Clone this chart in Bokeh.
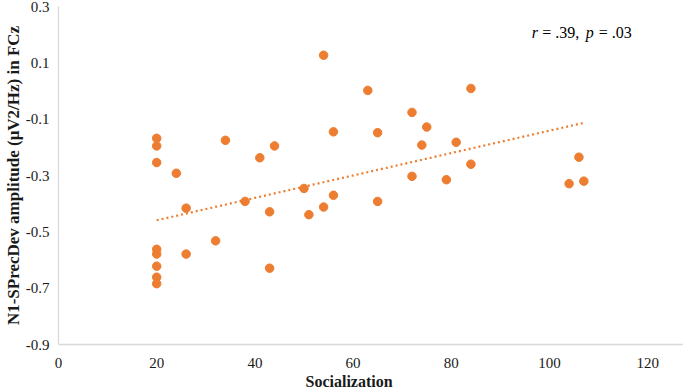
import numpy as np
from bokeh.plotting import figure
from bokeh.models import Range1d, FixedTicker, Label, Title
from bokeh.embed import file_html
from bokeh.resources import INLINE

# Data
socialization = [20, 20, 20, 24, 34, 41, 44, 56, 26, 38, 43, 50, 56, 51, 54,
                 20, 20, 20, 20, 20, 26, 32, 43, 54, 63, 84, 72, 75, 65, 74,
                 81, 84, 72, 79, 65, 106, 104, 107]
n1_amplitude = [-0.168, -0.195, -0.254, -0.292, -0.175, -0.237, -0.195, -0.145,
                -0.416, -0.392, -0.429, -0.346, -0.370, -0.439, -0.412,
                -0.562, -0.579, -0.622, -0.661, -0.684, -0.579, -0.532, -0.629,
                0.127, 0.002, 0.009, -0.076, -0.128, -0.148, -0.192, -0.182,
                -0.260, -0.303, -0.315, -0.392, -0.235, -0.329, -0.320]
trend_x = [20, 107]
trend_y = [-0.459, -0.113]
x_ticks = [0, 20, 40, 60, 80, 100, 120]
y_ticks = [-0.9, -0.7, -0.5, -0.3, -0.1, 0.1, 0.3]
y_tick_labels = ["-0.9", "-0.7", "-0.5", "-0.3", "-0.1", "0.1", "0.3"]
x_title = "Socialization"
y_title = "N1-SPrecDev amplitude (μV2/Hz) in FCz"
stat_parts = [("r", "italic"), ("= .39,", "normal"), ("p", "italic"), ("= .03", "normal")]

ORANGE = "#ED7D31"
FONT = "Times New Roman"

p = figure(width=683, height=391, output_backend="svg", toolbar_location=None,
           x_range=Range1d(0, 127.3), y_range=Range1d(-0.9, 0.3),
           min_border_left=54, min_border_right=0, min_border_top=6,
           min_border_bottom=47)
p.outline_line_color = None
p.grid.visible = False

for ax in (p.xaxis[0], p.yaxis[0]):
    ax.axis_line_color = "#d9d9d9"
    ax.axis_line_width = 1.3
    ax.major_tick_line_color = None
    ax.minor_tick_line_color = None
    ax.major_tick_out = 0
    ax.major_tick_in = 0
    ax.major_label_text_font = FONT
    ax.major_label_text_font_size = "15px"
    ax.major_label_text_font_style = "normal"
    ax.major_label_text_color = "#1a1a1a"

p.xaxis.ticker = FixedTicker(ticks=x_ticks)
p.yaxis.ticker = FixedTicker(ticks=y_ticks)
p.yaxis.major_label_overrides = {t: s for t, s in zip(y_ticks, y_tick_labels)}
p.xaxis.major_label_standoff = 13
p.yaxis.major_label_standoff = 9

p.yaxis.axis_label = y_title
p.yaxis.axis_label_text_font = FONT
p.yaxis.axis_label_text_font_size = "17px"
p.yaxis.axis_label_text_font_style = "bold"
p.yaxis.axis_label_text_color = "#1a1a1a"
p.yaxis.axis_label_standoff = 0

t = Title(text=x_title, align="left", offset=247, standoff=0,
          text_font=FONT, text_font_size="16px",
          text_font_style="bold", text_color="#1a1a1a")
p.add_layout(t, "below")

p.line(trend_x, trend_y, line_color=ORANGE, line_width=2.2, line_dash="2 3")

p.scatter(socialization, n1_amplitude, size=8.5, fill_color=ORANGE,
          line_color=ORANGE)

# statistics annotation
offsets = [0, 10.5, 54, 67]
for (txt, style), off in zip(stat_parts, offsets):
    p.add_layout(Label(x=96.4, y=0.209, x_offset=off, text=txt,
                       text_font=FONT,
                       text_font_size="16px", text_font_style=style,
                       text_align="left", text_baseline="alphabetic",
                       text_color="black"))

open("out.html", "w").write(file_html(p, INLINE))
